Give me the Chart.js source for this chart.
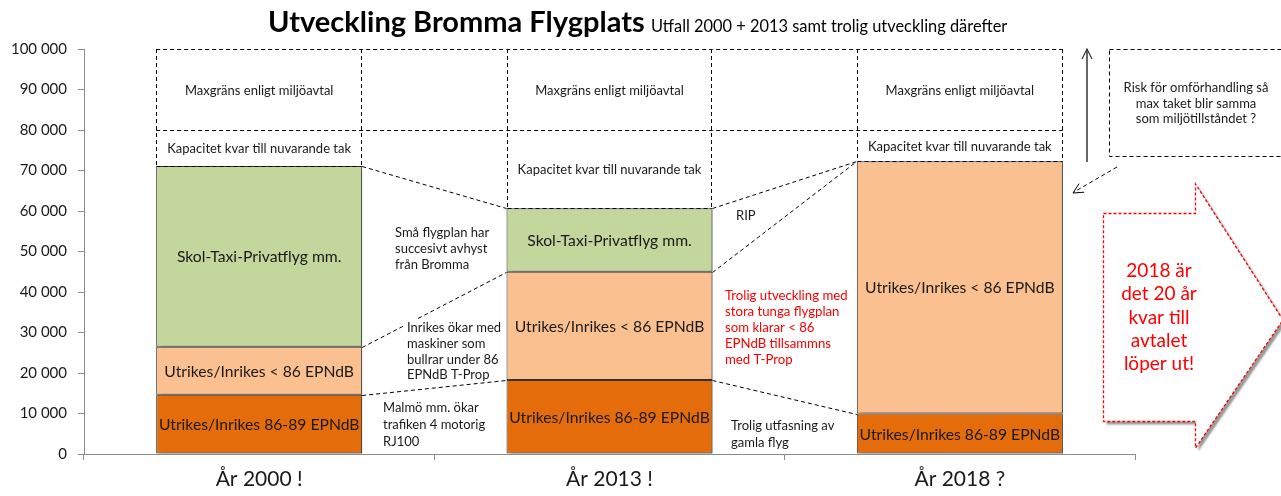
<!DOCTYPE html>
<html><head><meta charset="utf-8">
<script src="https://cdn.jsdelivr.net/npm/chart.js@4.4.1/dist/chart.umd.min.js"></script>
<style>html,body{margin:0;padding:0;background:#fff;}#wrap{width:1281px;height:496px;position:relative;}</style>
</head><body><div id="wrap"><canvas id="c" width="1281" height="496"></canvas></div>
<script>
// ---- data ----
const categories = ['År 2000 !', 'År 2013 !', 'År 2018 ?'];
const heavyValues = [14600, 18300, 10000];         // Utrikes/Inrikes 86-89 EPNdB
const quietValues = [11900, 26700, 62300];         // Utrikes/Inrikes < 86 EPNdB
const smallPlaneValues = [44600, 15700, 0];        // Skol-Taxi-Privatflyg mm.
const capacityLeftValues = [8900, 19300, 7700];    // Kapacitet kvar till nuvarande tak
const envLimitValues = [20000, 20000, 20000];      // Maxgräns enligt miljöavtal
const yTickLabels = ['0','10 000','20 000','30 000','40 000','50 000','60 000','70 000','80 000','90 000','100 000'];
const seriesNames = ['Utrikes/Inrikes 86-89 EPNdB', 'Utrikes/Inrikes < 86 EPNdB', 'Skol-Taxi-Privatflyg mm.', 'Kapacitet kvar till nuvarande tak', 'Maxgräns enligt miljöavtal'];

const FONT = 'Lato';
Chart.defaults.font.family = FONT;
Chart.defaults.color = '#1a1a1a';

function lines(ctx, arr, x, y, lh, align) {
  ctx.textAlign = align || 'left';
  ctx.textBaseline = 'middle';
  arr.forEach((t, i) => ctx.fillText(t, x, y + i * lh));
}
function arrowHead(ctx, x1, y1, x2, y2, len, half) {
  const a = Math.atan2(y2 - y1, x2 - x1);
  ctx.setLineDash([]);
  ctx.beginPath();
  ctx.moveTo(x2 - len * Math.cos(a) + half * Math.sin(a), y2 - len * Math.sin(a) - half * Math.cos(a));
  ctx.lineTo(x2, y2);
  ctx.lineTo(x2 - len * Math.cos(a) - half * Math.sin(a), y2 - len * Math.sin(a) + half * Math.cos(a));
  ctx.stroke();
}
const px = v => Math.round(v) + 0.5;

const decor = {
  id: 'decor',
  beforeDatasetDraw(chart, args) {
    if (args.index < 3) {
      const ctx = chart.ctx;
      ctx.save();
      ctx.shadowColor = 'rgba(0,0,0,0.35)';
      ctx.shadowBlur = 4;
      ctx.shadowOffsetX = 3;
      ctx.shadowOffsetY = 1;
    }
  },
  afterDatasetDraw(chart, args) {
    if (args.index < 3) chart.ctx.restore();
  },
  afterDatasetsDraw(chart) {
    const ctx = chart.ctx;
    ctx.save();
    ctx.strokeStyle = '#000';
    ctx.lineWidth = 1;
    ctx.setLineDash([4, 3]);
    const capEls = chart.getDatasetMeta(3).data;
    const limEls = chart.getDatasetMeta(4).data;
    // vertical dashed sides of the capacity + limit boxes, and capacity bottom
    capEls.forEach((el, i) => {
      const top = limEls[i].y;
      const l = px(el.x - el.width / 2), r = px(el.x + el.width / 2 - 1);
      ctx.beginPath();
      ctx.moveTo(l, top); ctx.lineTo(l, el.base);
      ctx.moveTo(r, top); ctx.lineTo(r, el.base);
      ctx.stroke();
      ctx.beginPath();
      ctx.moveTo(l, px(el.base)); ctx.lineTo(r, px(el.base));
      ctx.stroke();
    });
    // series lines: segments only in the gaps, box tops continuous
    for (let d = 0; d < 5; d++) {
      const data = chart.getDatasetMeta(d).data;
      ctx.beginPath();
      if (d >= 3) {
        data.forEach((el, i) => {
          const l = el.x - el.width / 2, r = el.x + el.width / 2;
          if (i === 0) ctx.moveTo(l, px(el.y)); else ctx.lineTo(l, px(el.y));
          ctx.lineTo(r, px(el.y));
        });
      } else {
        for (let i = 0; i < data.length - 1; i++) {
          const a = data[i], b = data[i + 1];
          ctx.moveTo(a.x + a.width / 2, px(a.y));
          ctx.lineTo(b.x - b.width / 2, px(b.y));
        }
      }
      ctx.stroke();
    }
    ctx.setLineDash([]);
    // segment labels
    ctx.fillStyle = '#1a1a1a';
    ctx.textAlign = 'center';
    ctx.textBaseline = 'middle';
    for (let d = 0; d < 5; d++) {
      const meta = chart.getDatasetMeta(d);
      const vals = chart.data.datasets[d].data;
      ctx.font = (d < 3 ? '15.7px ' : '13px ') + FONT;
      meta.data.forEach((el, i) => {
        if (!vals[i]) return;
        ctx.fillText(seriesNames[d], el.x, (el.y + el.base) / 2 + 1);
      });
    }
    ctx.restore();
  },
  afterDraw(chart) {
    const ctx = chart.ctx;
    ctx.save();
    // title
    ctx.fillStyle = '#000';
    ctx.textBaseline = 'alphabetic';
    ctx.textAlign = 'left';
    ctx.font = 'bold 29px ' + FONT;
    const t1 = 'Utveckling Bromma Flygplats';
    ctx.fillText(t1, 268, 32);
    const w1 = ctx.measureText(t1).width;
    ctx.font = '16.4px ' + FONT;
    ctx.fillText(' Utfall 2000 + 2013 samt trolig utveckling därefter', 268 + w1 + 2, 32);

    // annotations
    ctx.font = '13px ' + FONT;
    ctx.fillStyle = '#1a1a1a';
    lines(ctx, ['Små flygplan har', 'succesivt avhyst', 'från Bromma'], 395, 233, 16);
    ctx.fillStyle = '#fff';
    ctx.fillRect(404, 319, 102, 60);
    ctx.fillStyle = '#1a1a1a';
    lines(ctx, ['Inrikes ökar med', 'maskiner som', 'bullrar under 86', 'EPNdB T-Prop'], 407, 328, 15.7);
    lines(ctx, ['Malmö mm. ökar', 'trafiken 4 motorig', 'RJ100'], 383, 408, 17);
    lines(ctx, ['RIP'], 736, 216, 16);
    lines(ctx, ['Trolig utfasning av', 'gamla flyg'], 731, 426, 17);
    ctx.fillStyle = '#ff0000';
    ctx.font = '13.2px ' + FONT;
    lines(ctx, ['Trolig utveckling med', 'stora tunga flygplan', 'som klarar < 86', 'EPNdB tillsammns', 'med T-Prop'], 725, 296, 16);

    // right dashed box
    ctx.strokeStyle = '#000';
    ctx.lineWidth = 1;
    ctx.setLineDash([4, 3]);
    ctx.strokeRect(1109.5, 49.5, 200, 107);
    ctx.fillStyle = '#1a1a1a';
    ctx.font = '13px ' + FONT;
    lines(ctx, ['Risk för omförhandling så', 'max taket blir samma', 'som miljötillståndet ?'], 1196, 88, 15.5, 'center');

    // dashed arrow
    ctx.beginPath();
    ctx.moveTo(1117, 167);
    ctx.lineTo(1074, 192);
    ctx.stroke();
    ctx.lineWidth = 1;
    arrowHead(ctx, 1117, 167, 1073, 193, 10, 5);

    // solid vertical arrow
    ctx.strokeStyle = '#333';
    ctx.lineWidth = 1.5;
    ctx.setLineDash([]);
    ctx.beginPath();
    ctx.moveTo(1087, 162);
    ctx.lineTo(1087, 49);
    ctx.stroke();
    ctx.lineWidth = 1.2;
    arrowHead(ctx, 1087, 162, 1087, 49, 10, 5);

    // red callout arrow
    ctx.beginPath();
    ctx.moveTo(1103.5, 213.5);
    ctx.lineTo(1195.5, 213.5);
    ctx.lineTo(1195.5, 184);
    ctx.lineTo(1283, 320);
    ctx.lineTo(1195.5, 448);
    ctx.lineTo(1195.5, 421.5);
    ctx.lineTo(1103.5, 421.5);
    ctx.closePath();
    ctx.save();
    ctx.shadowColor = 'rgba(0,0,0,0.4)';
    ctx.shadowBlur = 2;
    ctx.shadowOffsetX = 3;
    ctx.shadowOffsetY = 3;
    ctx.fillStyle = '#fff';
    ctx.fill();
    ctx.restore();
    ctx.strokeStyle = '#ff0000';
    ctx.lineWidth = 1.3;
    ctx.setLineDash([3, 2]);
    ctx.stroke();
    ctx.setLineDash([]);
    ctx.fillStyle = '#ff0000';
    ctx.font = '19px ' + FONT;
    lines(ctx, ['2018 är', 'det 20 år', 'kvar till', 'avtalet', 'löper ut!'], 1159, 271, 23.3, 'center');
    ctx.restore();
  }
};

const border = '#3a3a3a';
new Chart(document.getElementById('c'), {
  type: 'bar',
  data: {
    labels: categories,
    datasets: [
      { label: seriesNames[0], data: heavyValues, backgroundColor: '#E46C0A', borderColor: border, borderWidth: 1, borderSkipped: false },
      { label: seriesNames[1], data: quietValues, backgroundColor: '#FAC090', borderColor: border, borderWidth: 1, borderSkipped: false },
      { label: seriesNames[2], data: smallPlaneValues, backgroundColor: '#C3D69B', borderColor: border, borderWidth: 1, borderSkipped: false },
      { label: seriesNames[3], data: capacityLeftValues, backgroundColor: 'rgba(255,255,255,0)', borderWidth: 0 },
      { label: seriesNames[4], data: envLimitValues, backgroundColor: 'rgba(255,255,255,0)', borderWidth: 0 }
    ]
  },
  options: {
    responsive: false,
    animation: false,
    events: [],
    barPercentage: 0.588,
    categoryPercentage: 1,
    layout: { padding: { top: 49, right: 146, left: 0, bottom: 0 } },
    plugins: { legend: { display: false }, tooltip: { enabled: false }, title: { display: false } },
    scales: {
      x: {
        stacked: true,
        border: { color: '#8c8c8c', width: 1 },
        grid: { drawOnChartArea: false, drawTicks: true, tickLength: 6, color: '#8c8c8c', offset: true },
        ticks: { font: { size: 21 }, color: '#1a1a1a', padding: 7 },
        afterFit(s) { s.height = 42; }
      },
      y: {
        stacked: true,
        min: 0, max: 100000,
        border: { color: '#8c8c8c', width: 1 },
        grid: { drawOnChartArea: false, drawTicks: true, tickLength: 6, color: '#8c8c8c' },
        ticks: { stepSize: 10000, font: { size: 15 }, color: '#1a1a1a', padding: 11,
                 callback: (v, i) => yTickLabels[i] },
        afterFit(s) { s.width = 84; }
      }
    }
  },
  plugins: [decor]
});
</script>
</body></html>
